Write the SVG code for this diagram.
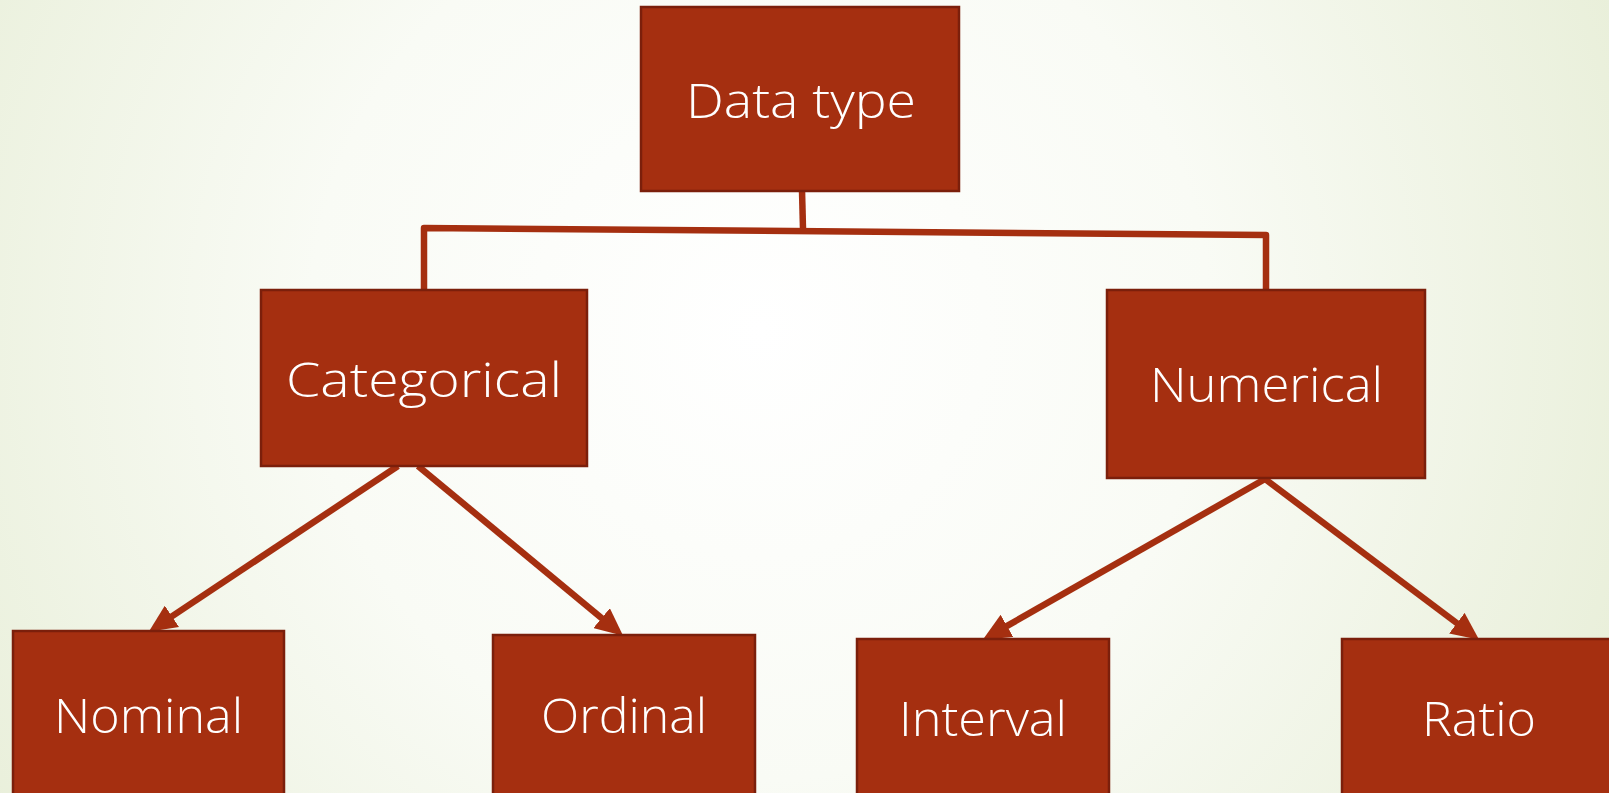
<svg xmlns="http://www.w3.org/2000/svg" width="1609" height="793" viewBox="0 0 1609 793">
  <defs>
    <radialGradient id="bg" cx="760" cy="330" r="1000" gradientUnits="userSpaceOnUse">
      <stop offset="0" stop-color="#ffffff"/>
      <stop offset="0.45" stop-color="#f9fbf5"/>
      <stop offset="1" stop-color="#e6edd5"/>
    </radialGradient>
    <marker id="arrow" markerUnits="userSpaceOnUse" markerWidth="30" markerHeight="26" refX="6" refY="12" orient="auto" viewBox="0 0 28 24">
      <path d="M0,0 L26,12 L0,24 Z" fill="#a52f10"/>
    </marker>
  </defs>
  <style>
    .box { fill: #a52f10; stroke: #7b1f0b; stroke-width: 2.5; }
    .lbl { font-family: "Open Sans", "DejaVu Sans", "Liberation Sans", sans-serif; font-size: 48px; font-weight: 300; fill: #ffffff; }
    .conn { fill: none; stroke: #a52f10; stroke-width: 6.5; stroke-linejoin: round; stroke-linecap: butt; }
  </style>
  <rect x="0" y="0" width="1609" height="793" fill="url(#bg)"/>

  <g id="connectors">
    <polyline class="conn" points="802,190 803,229"/>
    <polyline class="conn" points="424,290 424,228 1266,235 1266,290"/>
    <line class="conn" x1="398" y1="466" x2="166.6" y2="619.9" marker-end="url(#arrow)"/>
    <line class="conn" x1="418" y1="466" x2="606.6" y2="622.2" marker-end="url(#arrow)"/>
    <line class="conn" x1="1265" y1="479" x2="1001.4" y2="629.1" marker-end="url(#arrow)"/>
    <line class="conn" x1="1265" y1="479" x2="1462" y2="627" marker-end="url(#arrow)"/>
  </g>

  <g id="node-datatype">
    <rect class="box" x="641" y="7" width="318" height="184"/>
    <text class="lbl" x="686" y="118" textLength="230" lengthAdjust="spacingAndGlyphs">Data type</text>
  </g>
  <g id="node-categorical">
    <rect class="box" x="261" y="290" width="326" height="176"/>
    <text class="lbl" x="286" y="397" textLength="276" lengthAdjust="spacingAndGlyphs">Categorical</text>
  </g>
  <g id="node-numerical">
    <rect class="box" x="1107" y="290" width="318" height="188"/>
    <text class="lbl" x="1150" y="402" textLength="233" lengthAdjust="spacingAndGlyphs">Numerical</text>
  </g>
  <g id="node-nominal">
    <rect class="box" x="13" y="631" width="271" height="180"/>
    <text class="lbl" x="54" y="733" textLength="189" lengthAdjust="spacingAndGlyphs">Nominal</text>
  </g>
  <g id="node-ordinal">
    <rect class="box" x="493" y="635" width="262" height="180"/>
    <text class="lbl" x="541" y="733" textLength="166" lengthAdjust="spacingAndGlyphs">Ordinal</text>
  </g>
  <g id="node-interval">
    <rect class="box" x="857" y="639" width="252" height="180"/>
    <text class="lbl" x="899" y="736" textLength="168" lengthAdjust="spacingAndGlyphs">Interval</text>
  </g>
  <g id="node-ratio">
    <rect class="box" x="1342" y="639" width="290" height="180"/>
    <text class="lbl" x="1422" y="736" textLength="114" lengthAdjust="spacingAndGlyphs">Ratio</text>
  </g>
</svg>
